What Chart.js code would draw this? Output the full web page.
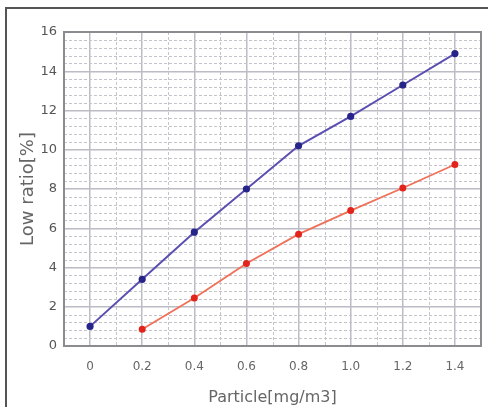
<!DOCTYPE html>
<html>
<head>
<meta charset="utf-8">
<script src="https://cdn.jsdelivr.net/npm/chart.js@4.4.1/dist/chart.umd.min.js"></script>
<style>
html, body { margin: 0; padding: 0; background: #fff; overflow: hidden; }
#frame { position: absolute; left: 5px; top: 7px; width: 600px; height: 500px;
         border-left: 2px solid #555; border-top: 2px solid #555; }
#wrap { position: absolute; left: 0; top: 0; width: 488px; height: 407px; }
</style>
</head>
<body>
<div id="frame"></div>
<div id="wrap"><canvas id="lowChart"></canvas></div>
<script>
const particle = [0, 0.2, 0.4, 0.6, 0.8, 1.0, 1.2, 1.4];
const blueRatio = [1.0, 3.4, 5.8, 8.0, 10.2, 11.7, 13.3, 14.9];
const redRatio = [null, 0.85, 2.45, 4.2, 5.7, 6.9, 8.05, 9.25];

const xTicks = [0, 0.2, 0.4, 0.6, 0.8, 1.0, 1.2, 1.4];
const xLabels = ["0", "0.2", "0.4", "0.6", "0.8", "1.0", "1.2", "1.4"];
const yTicks = [0, 2, 4, 6, 8, 10, 12, 14, 16];

function toPoints(vals) {
    const pts = [];
    particle.forEach((p, i) => {
        if (vals[i] !== null) pts.push({ x: p, y: vals[i] });
    });
    return pts;
}

// dotted minor grid + plot frame
const minorGrid = {
    id: "minorGrid",
    beforeDatasetsDraw(chart) {
        const { ctx, chartArea: a, scales } = chart;
        const x = scales.x, y = scales.y;
        ctx.save();
        ctx.strokeStyle = "#c4c4ca";
        ctx.lineWidth = 1;
        ctx.setLineDash([3, 2]);
        for (let v = 0.1; v < 1.45; v += 0.2) {
            const px = Math.round(x.getPixelForValue(v)) + 0.5;
            ctx.beginPath(); ctx.moveTo(px, a.top); ctx.lineTo(px, a.bottom); ctx.stroke();
        }
        for (let v = 0.4; v < 16; v += 0.4) {
            if (Math.abs(v / 2 - Math.round(v / 2)) < 0.01) continue;
            const py = Math.round(y.getPixelForValue(v)) + 0.5;
            ctx.beginPath(); ctx.moveTo(a.left, py); ctx.lineTo(a.right, py); ctx.stroke();
        }
        ctx.setLineDash([]);
        ctx.strokeStyle = "#8c8c90";
        ctx.lineWidth = 2;
        ctx.strokeRect(a.left, a.top, a.right - a.left, a.bottom - a.top);
        ctx.restore();
    }
};

new Chart(document.getElementById("lowChart"), {
    type: "scatter",
    data: {
        datasets: [{
            label: "A",
            data: toPoints(blueRatio),
            showLine: true,
            borderColor: "#5a4fb0",
            borderWidth: 2,
            pointBackgroundColor: "#27258a",
            pointBorderColor: "#27258a",
            pointRadius: 2.6
        }, {
            label: "B",
            data: toPoints(redRatio),
            showLine: true,
            borderColor: "#f07058",
            borderWidth: 1.8,
            pointBackgroundColor: "#e3241c",
            pointBorderColor: "#e3241c",
            pointRadius: 2.6
        }]
    },
    options: {
        responsive: true,
        maintainAspectRatio: false,
        animation: false,
        layout: { padding: { top: 32, right: 7, left: 0, bottom: 0 } },
        plugins: { legend: { display: false }, tooltip: { enabled: false } },
        scales: {
            x: {
                type: "linear",
                min: -0.1,
                max: 1.5,
                afterBuildTicks: s => { s.ticks = xTicks.map(v => ({ value: v })); },
                afterFit: s => { s.height = 61; },
                grid: { color: "#bcbcc4", lineWidth: 1.5, drawTicks: false },
                border: { display: false },
                ticks: {
                    padding: 14,
                    color: "#666",
                    font: { family: "DejaVu Sans", size: 12 },
                    callback: (v, i) => xLabels[i]
                },
                title: {
                    display: true,
                    text: "Particle[mg/m3]",
                    color: "#666",
                    font: { family: "DejaVu Sans", size: 16 },
                    padding: { top: 11, bottom: 0 }
                }
            },
            y: {
                min: 0,
                max: 16,
                afterBuildTicks: s => { s.ticks = yTicks.map(v => ({ value: v })); },
                afterFit: s => { s.width = 64; },
                grid: { color: "#bcbcc4", lineWidth: 1.5, drawTicks: false },
                border: { display: false },
                ticks: {
                    padding: 7,
                    color: "#555",
                    font: { family: "DejaVu Sans", size: 13 }
                },
                title: {
                    display: true,
                    text: "Low ratio[%]",
                    color: "#666",
                    font: { family: "DejaVu Sans", size: 18 },
                    padding: { top: 18, bottom: 0 }
                }
            }
        }
    },
    plugins: [minorGrid]
});
</script>
</body>
</html>
